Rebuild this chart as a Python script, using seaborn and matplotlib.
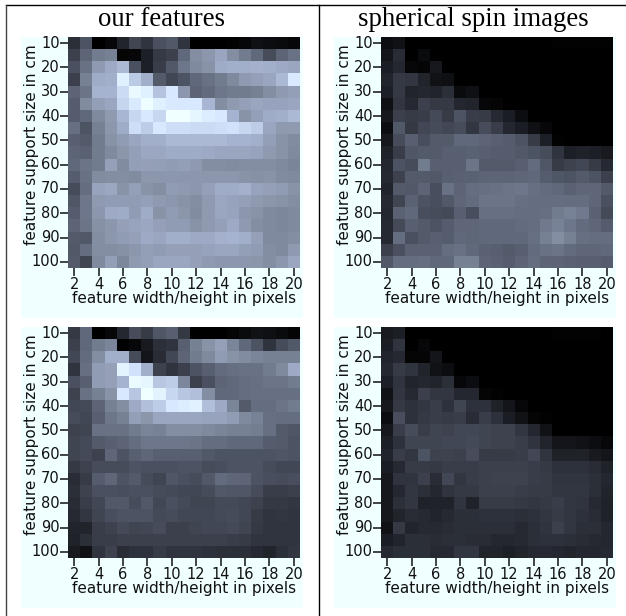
import pandas as pd
import matplotlib.pyplot as plt
import seaborn as sns
from matplotlib.colors import LinearSegmentedColormap
from matplotlib.lines import Line2D
from matplotlib.patches import Rectangle

W, H = 626, 616

widths = list(range(2, 21))
sizes = list(range(10, 101, 5))

# brightness, one row per support size
our_top = [
    [18, 33, 0, 3, 14, 27, 20, 32, 35, 20, 0, 0, 0, 1, 3, 6, 5, 4, 3],
    [25, 40, 50, 52, 2, 3, 12, 22, 25, 42, 58, 62, 68, 58, 50, 42, 30, 40, 46],
    [32, 46, 63, 70, 76, 32, 12, 24, 35, 48, 56, 60, 71, 72, 72, 73, 72, 70, 68],
    [25, 52, 71, 72, 93, 81, 72, 36, 28, 33, 42, 46, 50, 56, 63, 66, 68, 76, 91],
    [40, 47, 74, 74, 86, 97, 93, 79, 90, 62, 40, 43, 48, 50, 50, 52, 58, 63, 65],
    [37, 57, 65, 68, 84, 91, 99, 93, 91, 90, 90, 75, 58, 63, 66, 68, 67, 67, 68],
    [37, 42, 56, 63, 75, 85, 90, 85, 100, 100, 96, 92, 90, 74, 60, 65, 71, 72, 76],
    [45, 33, 52, 62, 71, 87, 82, 90, 87, 87, 86, 86, 87, 88, 85, 82, 68, 63, 63],
    [38, 36, 50, 60, 64, 68, 72, 72, 76, 76, 76, 76, 76, 74, 74, 72, 65, 60, 57],
    [40, 39, 50, 56, 61, 65, 69, 69, 71, 71, 71, 70, 68, 68, 68, 67, 63, 60, 56],
    [42, 47, 50, 66, 57, 65, 66, 65, 64, 65, 63, 58, 58, 57, 58, 58, 58, 56, 54],
    [37, 46, 57, 58, 58, 57, 62, 62, 62, 62, 62, 62, 62, 62, 60, 59, 60, 57, 56],
    [30, 44, 67, 69, 60, 65, 60, 58, 64, 63, 62, 66, 71, 71, 73, 67, 66, 64, 60],
    [34, 48, 63, 64, 64, 64, 65, 63, 62, 60, 58, 63, 69, 67, 66, 63, 61, 60, 58],
    [37, 48, 62, 70, 71, 64, 71, 60, 64, 61, 57, 63, 68, 67, 62, 60, 56, 55, 56],
    [40, 47, 59, 62, 66, 67, 69, 66, 64, 64, 60, 63, 66, 70, 63, 58, 56, 55, 56],
    [36, 35, 58, 62, 64, 66, 70, 68, 72, 72, 70, 70, 73, 74, 72, 66, 56, 56, 58],
    [35, 44, 58, 58, 59, 62, 65, 64, 66, 66, 66, 67, 68, 68, 65, 64, 58, 56, 63],
    [36, 27, 56, 65, 55, 63, 65, 68, 68, 68, 66, 63, 62, 62, 62, 61, 58, 62, 68],
]

spin_top = [
    [5, 7, 0, 0, 0, 0, 0, 0, 0, 0, 0, 0, 0, 0, 1, 1, 1, 1, 1],
    [8, 17, 0, 4, 0, 0, 0, 0, 0, 0, 0, 0, 0, 0, 0, 0, 0, 0, 0],
    [11, 15, 3, 2, 9, 0, 0, 0, 0, 0, 0, 0, 0, 0, 0, 0, 0, 0, 0],
    [14, 22, 21, 14, 7, 6, 0, 0, 0, 0, 0, 0, 0, 0, 0, 0, 0, 0, 0],
    [12, 22, 14, 15, 14, 18, 4, 6, 0, 0, 0, 0, 0, 0, 0, 0, 0, 0, 0],
    [6, 21, 16, 25, 22, 22, 15, 14, 3, 2, 0, 0, 0, 0, 0, 0, 0, 0, 0],
    [9, 25, 23, 24, 29, 23, 33, 24, 23, 16, 11, 5, 0, 0, 0, 0, 0, 0, 0],
    [5, 35, 22, 28, 30, 28, 30, 21, 30, 24, 15, 11, 6, 3, 0, 0, 0, 0, 0],
    [9, 30, 38, 31, 36, 36, 42, 42, 40, 38, 37, 33, 23, 12, 1, 0, 0, 0, 0],
    [13, 24, 34, 36, 36, 38, 38, 39, 38, 37, 37, 35, 33, 30, 20, 12, 13, 12, 10],
    [15, 33, 30, 50, 38, 38, 38, 47, 36, 36, 36, 38, 43, 34, 23, 26, 28, 23, 16],
    [16, 26, 36, 36, 35, 38, 39, 39, 40, 40, 40, 41, 42, 37, 34, 33, 36, 33, 25],
    [14, 36, 35, 40, 31, 46, 40, 44, 45, 46, 47, 48, 45, 43, 42, 39, 41, 41, 36],
    [16, 27, 39, 33, 31, 35, 41, 43, 47, 47, 47, 45, 44, 44, 44, 44, 44, 41, 32],
    [15, 39, 42, 31, 30, 29, 38, 31, 45, 45, 45, 44, 44, 45, 50, 53, 49, 39, 29],
    [16, 29, 38, 36, 33, 37, 41, 41, 42, 42, 42, 43, 44, 49, 53, 48, 43, 41, 37],
    [16, 44, 32, 36, 38, 37, 42, 41, 42, 42, 42, 42, 45, 52, 58, 52, 45, 44, 44],
    [25, 32, 39, 39, 39, 44, 46, 42, 39, 38, 36, 38, 43, 46, 47, 43, 41, 41, 42],
    [35, 44, 44, 45, 42, 42, 52, 52, 40, 39, 37, 40, 44, 40, 40, 39, 38, 38, 37],
]

our_bottom = [
    [22, 42, 0, 3, 15, 30, 23, 34, 38, 22, 0, 0, 0, 2, 4, 7, 6, 4, 2],
    [25, 42, 50, 54, 1, 3, 10, 18, 20, 38, 52, 60, 66, 54, 42, 33, 20, 30, 35],
    [28, 43, 58, 72, 72, 30, 8, 17, 28, 40, 50, 56, 64, 60, 57, 54, 52, 52, 52],
    [20, 45, 64, 66, 95, 88, 72, 26, 20, 25, 33, 38, 43, 45, 46, 46, 50, 56, 70],
    [32, 38, 64, 66, 74, 98, 96, 80, 82, 55, 25, 32, 40, 42, 44, 45, 47, 47, 50],
    [26, 46, 52, 60, 90, 80, 100, 95, 85, 80, 78, 58, 42, 42, 44, 45, 45, 45, 45],
    [28, 29, 40, 52, 58, 70, 78, 82, 90, 92, 94, 78, 70, 54, 36, 44, 44, 47, 50],
    [30, 28, 38, 48, 52, 65, 61, 68, 68, 68, 68, 67, 67, 64, 56, 53, 45, 44, 44],
    [26, 27, 46, 46, 46, 50, 54, 53, 58, 58, 58, 56, 54, 52, 52, 51, 45, 36, 34],
    [27, 29, 36, 38, 40, 44, 48, 48, 48, 48, 47, 44, 44, 42, 42, 42, 37, 36, 33],
    [27, 29, 26, 41, 33, 38, 41, 38, 38, 38, 38, 35, 33, 33, 33, 33, 33, 34, 33],
    [22, 26, 30, 30, 30, 33, 32, 32, 32, 33, 33, 30, 31, 33, 33, 33, 30, 28, 28],
    [17, 23, 37, 41, 33, 36, 30, 27, 34, 32, 30, 35, 43, 41, 40, 33, 31, 30, 31],
    [18, 26, 32, 32, 31, 32, 32, 30, 29, 28, 28, 30, 35, 34, 34, 30, 24, 24, 25],
    [17, 24, 28, 35, 35, 30, 35, 28, 32, 29, 27, 27, 29, 29, 28, 26, 22, 22, 21],
    [16, 21, 27, 31, 33, 33, 33, 29, 30, 28, 28, 28, 29, 30, 28, 23, 20, 21, 20],
    [14, 14, 24, 26, 29, 27, 28, 30, 25, 25, 27, 28, 28, 29, 27, 22, 20, 20, 20],
    [13, 18, 24, 24, 25, 25, 25, 25, 25, 25, 25, 25, 25, 24, 23, 20, 20, 20, 20],
    [10, 7, 20, 26, 17, 19, 19, 23, 20, 20, 20, 19, 18, 18, 18, 16, 14, 18, 21],
]

spin_bottom = [
    [10, 12, 0, 0, 0, 0, 0, 0, 0, 0, 0, 0, 0, 0, 1, 1, 1, 1, 0],
    [11, 20, 0, 3, 0, 0, 0, 0, 0, 0, 0, 0, 0, 0, 0, 0, 0, 0, 0],
    [14, 16, 2, 2, 8, 0, 0, 0, 0, 0, 0, 0, 0, 0, 0, 0, 0, 0, 0],
    [15, 23, 20, 14, 7, 5, 0, 0, 0, 0, 0, 0, 0, 0, 0, 0, 0, 0, 0],
    [12, 20, 14, 15, 14, 18, 3, 5, 0, 0, 0, 0, 0, 0, 0, 0, 0, 0, 0],
    [7, 21, 16, 25, 21, 21, 15, 15, 2, 1, 0, 0, 0, 0, 0, 0, 0, 0, 0],
    [9, 22, 19, 21, 24, 19, 27, 19, 19, 13, 8, 3, 0, 0, 0, 0, 0, 0, 0],
    [5, 31, 19, 22, 24, 23, 24, 17, 24, 19, 11, 7, 2, 1, 0, 0, 0, 0, 0],
    [9, 24, 30, 24, 27, 26, 28, 28, 27, 26, 26, 21, 15, 7, 0, 0, 0, 0, 0],
    [12, 19, 27, 27, 27, 28, 28, 29, 27, 26, 26, 24, 20, 14, 8, 8, 7, 5, 3],
    [14, 24, 21, 33, 26, 26, 25, 30, 23, 23, 23, 24, 28, 20, 13, 13, 13, 10, 8],
    [11, 16, 23, 23, 22, 24, 24, 24, 25, 25, 25, 25, 24, 22, 19, 19, 19, 17, 13],
    [9, 20, 20, 25, 17, 28, 21, 24, 25, 26, 26, 26, 24, 23, 20, 20, 20, 18, 15],
    [9, 15, 21, 18, 15, 20, 22, 22, 25, 25, 25, 24, 23, 23, 21, 21, 21, 18, 14],
    [9, 18, 21, 13, 13, 13, 20, 13, 23, 23, 23, 22, 21, 22, 24, 21, 20, 16, 13],
    [9, 14, 17, 16, 14, 16, 18, 18, 19, 19, 19, 18, 19, 21, 23, 21, 19, 17, 13],
    [7, 22, 14, 16, 16, 17, 18, 18, 18, 18, 18, 16, 18, 20, 25, 21, 18, 18, 15],
    [11, 14, 18, 18, 17, 18, 18, 17, 17, 15, 15, 16, 18, 19, 19, 18, 17, 16, 15],
    [16, 18, 18, 18, 16, 16, 21, 21, 14, 14, 12, 14, 16, 16, 15, 14, 15, 15, 16],
]

titles = ["our features", "spherical spin images"]
x_label = "feature width/height in pixels"
y_label = "feature support size in cm"

# blue-grey ramp that ends in the same azure as the panel background
cmap = LinearSegmentedColormap.from_list("panel", [
    (0.0, "#000000"), (0.1, "#191b21"), (0.2, "#30343e"), (0.3, "#464c5a"),
    (0.4, "#5c6476"), (0.6, "#8893a8"), (0.75, "#a8b5d2"),
    (0.9, "#d7e8ff"), (1.0, "#f0ffff"),
])


def draw_panel(fig, values, left, top):
    # panel background first, then the heatmap on top of it
    fig.add_artist(Rectangle(((left - 47) / W, 1 - (top + 281) / H), 282 / W, 281 / H,
                             transform=fig.transFigure, facecolor="#f0ffff",
                             edgecolor="none", zorder=-1))
    ax = fig.add_axes([left / W, 1 - (top + 231) / H, 232 / W, 231 / H])
    df = pd.DataFrame(values, index=sizes, columns=widths)
    sns.heatmap(df, cmap=cmap, vmin=0, vmax=100, cbar=False, ax=ax,
                xticklabels=2, yticklabels=2)
    ax.tick_params(axis="both", length=5.5, width=1.1, labelsize=10.5, pad=0.5, colors="#111111")
    ax.tick_params(axis="x", rotation=0, pad=1)
    ax.tick_params(axis="y", rotation=0)
    ax.set_xlabel(x_label, fontsize=11, color="#111111", va="center")
    ax.set_ylabel(y_label, fontsize=11, color="#111111", va="center")
    ax.xaxis.set_label_coords(0.5, -31 / 231)
    ax.yaxis.set_label_coords(-36 / 232, 0.532)
    return ax


fig = plt.figure(figsize=(W / 100, H / 100), dpi=100, facecolor="white")

draw_panel(fig, our_top, 68, 37)
draw_panel(fig, spin_top, 381, 37)
draw_panel(fig, our_bottom, 68, 327)
draw_panel(fig, spin_bottom, 381, 327)

fig.text(162 / W, 1 - 26 / H, titles[0], ha="center", va="baseline",
         family="Liberation Serif", fontsize=19.3)
fig.text(473 / W, 1 - 26 / H, titles[1], ha="center", va="baseline",
         family="Liberation Serif", fontsize=19.3)

# table rules around the panels
fig.add_artist(Line2D([6 / W, 1], [1 - 4.5 / H] * 2, color="black", lw=1))
fig.add_artist(Line2D([6 / W] * 2, [0, 1 - 4.5 / H], color="#444444", lw=1))
fig.add_artist(Line2D([318.5 / W] * 2, [0, 1 - 4.5 / H], color="black", lw=1))

fig.savefig("out.png", dpi=100, facecolor="white")
